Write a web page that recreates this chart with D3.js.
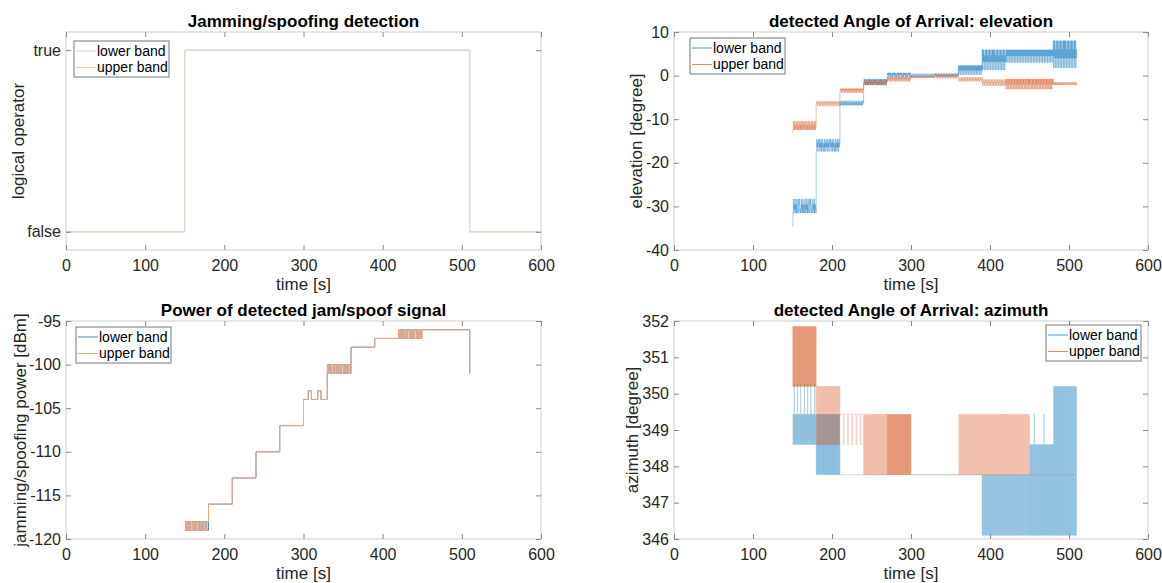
<!DOCTYPE html>
<html>
<head>
<meta charset="utf-8">
<title>Jamming/spoofing detection</title>
<script src="https://cdn.jsdelivr.net/npm/d3@7"></script>
<style>
  body { margin: 0; background: #fff; }
  svg { font-family: "Liberation Sans", Arial, sans-serif; }
</style>
</head>
<body>
<svg id="fig" width="1162" height="583"></svg>
<script>
// ---- data (segments: [t0, t1, levels, pattern of level indices sampled evenly]) ----
var timeTicks = [0, 100, 200, 300, 400, 500, 600];
var bandNames = ['lower band', 'upper band'];

var detectTicks = [0, 1];
var detectTickLabels = ['false', 'true'];
var detectLower = [[0, 150, [0], '0'], [150, 510, [1], '0'], [510, 600, [0], '0']];
var detectUpper = [[0, 150, [0], '0'], [150, 510, [1], '0'], [510, 600, [0], '0']];

var elevTicks = [-40, -30, -20, -10, 0, 10];
var elevLower = [
  [150, 180, [-34.5, -31.5, -30.6, -29.6, -28.3], '014132413142134124312142314132141324131421341243121423141321'],
  [180, 210, [-17.4, -16.4, -15.5, -14.6], '031203213021302130120312031203120321302130213012031203120312'],
  [210, 240, [-6.8, -6.2, -5.8], '102101201021012010210120102101201021012010210120102101201021'],
  [240, 270, [-2.1, -1.5, -0.8], '021201021020120210201210201202120102102012021020121020120212'],
  [270, 300, [-0.3, 0.2, 0.6], '212021202101202120212010212021202120210120212021201021202120'],
  [300, 330, [-0.3, 0.1, 0.4], '101210121012101210121012101210121012101210121012101210121012'],
  [330, 360, [-0.2, 0.2, 0.5], '121012101210121012101210121012101210121012101210121012101210'],
  [360, 390, [0.2, 1.2, 2.3], '202120212021202120212021202120212021202120212021202120212021'],
  [390, 420, [1.3, 3.2, 4.6, 5.9], '303130213031302130313021303130313021303130213031302130313021'],
  [420, 480, [3.0, 4.5, 5.9], '202120212021202120212021202120212021202120212021202120212021202120212021202120212021202120212021202120212021202120212021'],
  [480, 510, [1.8, 4.0, 6.0, 8.0], '303130213031302130313021303130313021303130213031302130313021']
];
var elevUpper = [
  [150, 180, [-13.0, -12.4, -11.5, -10.5], '013123121321312132131213213123121321312132131213213121321312'],
  [180, 210, [-6.9, -6.3, -5.9], '121012101210121012101210121012101210121012101210121012101210'],
  [210, 240, [-3.9, -3.4, -3.0], '021201202120120212012021201202120120212012021201202120120212'],
  [240, 270, [-2.2, -1.6, -1.0], '101210121012101210121012101210121012101210121012101210121012'],
  [270, 300, [-1.3, -0.8, -0.4], '021201202120120212012021201202120120212012021201202120120212'],
  [300, 330, [-0.5, -0.2], '010110100101101001011010010110100101101001011010010110100101'],
  [330, 360, [-0.6, -0.1, 0.2], '121012101210121012101210121012101210121012101210121012101210'],
  [360, 390, [-1.3, -0.8, -0.4], '101210121012101210121012101210121012101210121012101210121012'],
  [390, 420, [-2.3, -1.5, -0.9], '101210121012101210121012101210121012101210121012101210121012'],
  [420, 480, [-3.1, -2.0, -0.8], '021201202120120212012021201202120120212012021201202120120212021201202120120212012021201202120120212012021201202120120212'],
  [480, 510, [-2.1, -1.6], '010110100101101001011010010110100101101001011010010110100101']
];

var powerTicks = [-120, -115, -110, -105, -100, -95];
var powerLower = [
  [150, 180, [-119, -118], '0101101001101011010010110100'],
  [180, 210, [-116], '0'], [210, 240, [-113], '0'], [240, 270, [-110], '0'], [270, 300, [-107], '0'],
  [300, 330, [-104, -103], '000000111100000000111100000000'],
  [330, 360, [-101, -100], '0110100101101001011010010110'],
  [360, 390, [-98], '0'], [390, 420, [-97], '0'],
  [420, 450, [-97, -96], '0101101001011010010110100101'],
  [450, 510, [-96], '0'], [510, 510, [-101], '0']
];
var powerUpper = [
  [150, 180, [-119, -118], '1010010110010100101101001011'],
  [180, 210, [-116], '0'], [210, 240, [-113], '0'], [240, 270, [-110], '0'], [270, 300, [-107], '0'],
  [300, 330, [-104, -103], '000000111100000000111100000000'],
  [330, 360, [-101, -100], '1001011010010110100101101001'],
  [360, 390, [-98], '0'], [390, 420, [-97], '0'],
  [420, 450, [-97, -96], '1010010110100101101001011010'],
  [450, 510, [-96], '0'], [510, 510, [-101], '0']
];

var azTicks = [346, 347, 348, 349, 350, 351, 352];
var azLower = [
  [150, 180, [348.6, 349.43, 350.27], '101020101010201010102010101010201010102010101020101010102010'],
  [180, 210, [347.77, 349.43], '0101010101010101010101010101010101010101010101010101010101010101'],
  [210, 390, [347.77], '0'],
  [390, 450, [346.1, 347.77], '0101010101010101010101010101010101010101010101010101010101010101010101010101010101010101010101010101010101010101'],
  [450, 480, [346.1, 348.6, 349.43], '0101010101020101010101010101010101020101010101010101010101'],
  [480, 510, [346.1, 350.2], '0101010101010101010101010101010101010101010101010101010101']
];
var azUpper = [
  [150, 180, [350.2, 351.85], '010101010101010101010101010101010101010101010101010101010101010101010101010101010101010101'],
  [180, 210, [348.6, 350.2], '010101010101010101010101010101010101010101010101'],
  [210, 240, [348.6, 349.43], '1111011110111101111011110111'],
  [240, 270, [347.77, 349.43], '010101010101010101010101010101010101010101010101'],
  [270, 300, [347.77, 349.43], '010101010101010101010101010101010101010101010101010101010101010101010101010101010101010101'],
  [300, 360, [347.77], '0'],
  [360, 450, [347.77, 349.43], '010101010101010101010101010101010101010101010101010101010101010101010101010101010101010101010101010101010101010101010101010101010101010101'],
  [450, 510, [347.77], '0']
];

// ---- layout ----
var panels = [
  { box: [66, 32, 541, 250], title: 'Jamming/spoofing detection', ylabel: 'logical operator',
    ydom: [-0.1, 1.1], yticks: detectTicks, ylabels: detectTickLabels,
    series: [detectLower, detectUpper], colors: ['#bcd7ec', '#f3cdb2'], width: 1, opacity: 1,
    legend: [74, 41], ylabelX: 18, xlabelY: 290 },
  { box: [674, 32, 1148, 250], title: 'detected Angle of Arrival: elevation', ylabel: 'elevation [degree]',
    ydom: [-40, 10], yticks: elevTicks, ylabels: null,
    series: [elevLower, elevUpper], colors: ['#0072BD', '#D95319'], width: 0.7, opacity: 0.5,
    legend: [690, 38], ylabelX: 636, xlabelY: 290 },
  { box: [66, 321, 541, 539], title: 'Power of detected jam/spoof signal', ylabel: 'jamming/spoofing power [dBm]',
    ydom: [-120, -95], yticks: powerTicks, ylabels: null,
    series: [powerLower, powerUpper], colors: ['#5a87b0', '#eaa987'], width: 1, opacity: 1,
    legend: [76, 327], ylabelX: 20, xlabelY: 579 },
  { box: [674, 321, 1148, 539], title: 'detected Angle of Arrival: azimuth', ylabel: 'azimuth [degree]',
    ydom: [346, 352], yticks: azTicks, ylabels: null,
    series: [azLower, azUpper], colors: ['#0072BD', '#D95319'], width: 0.6, opacity: 0.35,
    legend: [1046, 325], ylabelX: 632, xlabelY: 579 }
];

function buildSeries(segs) {
  var pts = [];
  segs.forEach(function (s) {
    var n = s[3].length, dt = (s[1] - s[0]) / n;
    for (var i = 0; i < n; i++) pts.push([s[0] + i * dt, s[2][+s[3][i]]]);
  });
  var last = segs[segs.length - 1];
  pts.push([last[1], last[2][+last[3][last[3].length - 1]]]);
  return pts;
}

var svg = d3.select('#fig');
var num = function (d) { return String(d); };

panels.forEach(function (p) {
  var L = p.box[0], T = p.box[1], R = p.box[2], B = p.box[3];
  var x = d3.scaleLinear().domain([0, 600]).range([L, R]);
  var y = d3.scaleLinear().domain(p.ydom).range([B, T]);
  var g = svg.append('g');

  // series
  var line = d3.line().x(function (d) { return x(d[0]); }).y(function (d) { return y(d[1]); })
    .curve(d3.curveStepAfter);
  p.series.forEach(function (segs, i) {
    g.append('path')
      .attr('d', line(buildSeries(segs)))
      .attr('fill', 'none')
      .attr('stroke', p.colors[i])
      .attr('stroke-opacity', p.opacity)
      .attr('stroke-width', p.width);
  });

  // box
  g.append('rect').attr('x', L).attr('y', T).attr('width', R - L).attr('height', B - T)
    .attr('fill', 'none').attr('stroke', '#cdcdcd').attr('stroke-width', 1);

  var fmt = p.ylabels ? function (d, i) { return p.ylabels[i]; } : num;
  var axes = [
    g.append('g').attr('transform', 'translate(0,' + B + ')')
      .call(d3.axisBottom(x).tickValues(timeTicks).tickSize(-5).tickPadding(10).tickFormat(num)),
    g.append('g').attr('transform', 'translate(0,' + T + ')')
      .call(d3.axisTop(x).tickValues(timeTicks).tickSize(-5).tickFormat('')),
    g.append('g').attr('transform', 'translate(' + L + ',0)')
      .call(d3.axisLeft(y).tickValues(p.yticks).tickSize(-5).tickPadding(5).tickFormat(fmt)),
    g.append('g').attr('transform', 'translate(' + R + ',0)')
      .call(d3.axisRight(y).tickValues(p.yticks).tickSize(-5).tickFormat(''))
  ];
  axes.forEach(function (a) {
    a.select('.domain').remove();
    a.selectAll('line').attr('stroke', '#8c8c8c');
    a.selectAll('text').attr('fill', '#262626').style('font-size', '16px')
      .style('font-family', '"Liberation Sans", Arial, sans-serif');
  });

  // title and labels
  g.append('text').attr('x', (L + R) / 2).attr('y', T - 5).attr('text-anchor', 'middle')
    .style('font-size', '17px').style('font-weight', 'bold').attr('fill', '#000').text(p.title);
  g.append('text').attr('x', (L + R) / 2).attr('y', p.xlabelY).attr('text-anchor', 'middle')
    .style('font-size', '17px').attr('fill', '#262626').text('time [s]');
  g.append('text').attr('transform', 'translate(' + p.ylabelX + ',' + (T + B) / 2 + ') rotate(-90)')
    .attr('text-anchor', 'middle').attr('dy', '0.35em')
    .style('font-size', '17px').attr('fill', '#262626').text(p.ylabel);

  // legend
  var lg = g.append('g').attr('transform', 'translate(' + p.legend[0] + ',' + p.legend[1] + ')');
  lg.append('rect').attr('width', 95).attr('height', 36).attr('fill', '#fff')
    .attr('stroke', '#777').attr('stroke-width', 1);
  bandNames.forEach(function (name, i) {
    var yy = 10 + i * 16.5;
    lg.append('line').attr('x1', 2).attr('x2', 22).attr('y1', yy).attr('y2', yy)
      .attr('stroke', p.colors[i]).attr('stroke-opacity', Math.max(p.opacity, 0.7)).attr('stroke-width', 1);
    lg.append('text').attr('x', 23).attr('y', yy).attr('dy', '0.35em')
      .style('font-size', '14px').attr('fill', '#000').text(name);
  });
});
</script>
</body>
</html>
